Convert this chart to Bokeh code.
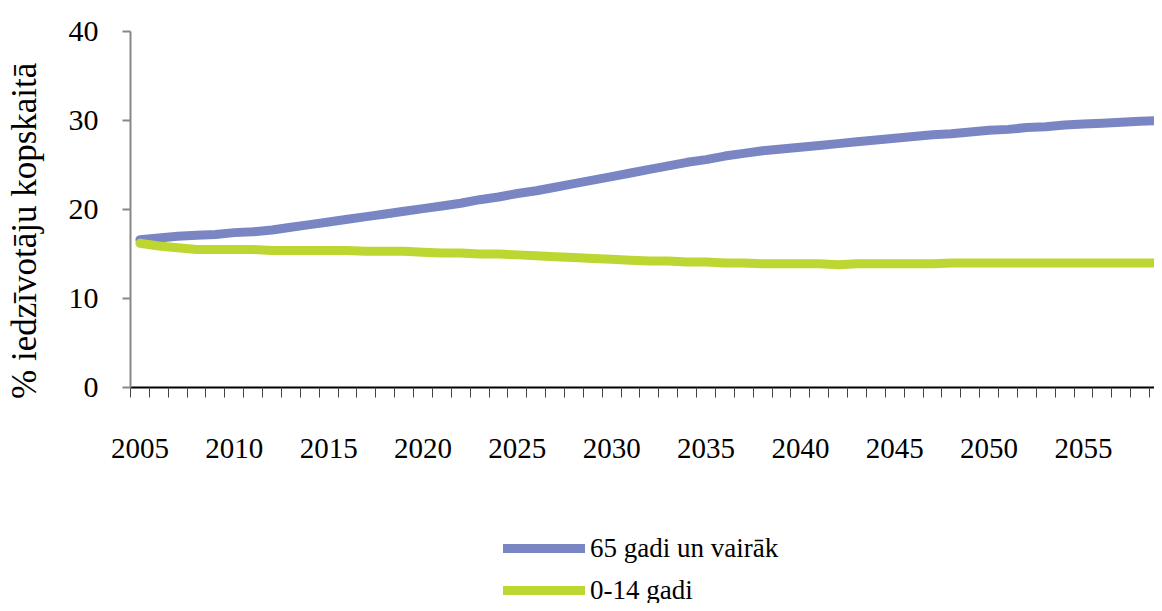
import math
from bokeh.plotting import figure
from bokeh.models import FixedTicker, Legend, LegendItem, Range1d, Label
from bokeh.embed import file_html
from bokeh.resources import INLINE

years = list(range(2005, 2061))
old_65 = [16.6, 16.8, 17.0, 17.1, 17.2, 17.4, 17.5, 17.7, 18.0, 18.3,
          18.6, 18.9, 19.2, 19.5, 19.8, 20.1, 20.4, 20.7, 21.1, 21.4,
          21.8, 22.1, 22.5, 22.9, 23.3, 23.7, 24.1, 24.5, 24.9, 25.3,
          25.6, 26.0, 26.3, 26.6, 26.8, 27.0, 27.2, 27.4, 27.6, 27.8,
          28.0, 28.2, 28.4, 28.5, 28.7, 28.9, 29.0, 29.2, 29.3, 29.5,
          29.6, 29.7, 29.8, 29.9, 30.0, 30.0]
young_014 = [16.2, 15.9, 15.7, 15.5, 15.5, 15.5, 15.5, 15.4, 15.4, 15.4,
             15.4, 15.4, 15.3, 15.3, 15.3, 15.2, 15.1, 15.1, 15.0, 15.0,
             14.9, 14.8, 14.7, 14.6, 14.5, 14.4, 14.3, 14.2, 14.2, 14.1,
             14.1, 14.0, 14.0, 13.9, 13.9, 13.9, 13.9, 13.8, 13.9, 13.9,
             13.9, 13.9, 13.9, 14.0, 14.0, 14.0, 14.0, 14.0, 14.0, 14.0,
             14.0, 14.0, 14.0, 14.0, 14.0, 14.0]
label_years = list(range(2005, 2061, 5))
y_ticks = [0, 10, 20, 30, 40]
series_names = ["65 gadi un vairāk", "0-14 gadi"]
y_title = "% iedzīvotāju kopskaitā"
colors = ["#7A85C3", "#BDD631"]

FONT = "Liberation Serif"

# The frame fills the whole figure; both axes are pinned inside it so that
# the legend and the rotated axis title can sit anywhere without clipping.
p = figure(width=1154, height=603, output_backend="svg", toolbar_location=None,
           x_range=Range1d(1997.611, 2058.765), y_range=Range1d(-24.27, 43.48),
           min_border=0)
p.outline_line_color = None
p.grid.visible = False

r1 = p.line(years, old_65, line_color=colors[0], line_width=9, line_cap="round")
r2 = p.line(years, young_014, line_color=colors[1], line_width=9, line_cap="round")

xa = p.xaxis[0]
xa.fixed_location = 0
xa.bounds = (2004.5, 2060.5)
xa.ticker = FixedTicker(ticks=label_years, minor_ticks=[y - 0.5 for y in years] + [2060.5])
xa.axis_line_color = "black"
xa.axis_line_width = 2
xa.major_tick_line_color = None
xa.major_tick_out = 10
xa.major_tick_in = 0
xa.minor_tick_line_color = "#444444"
xa.minor_tick_out = 10
xa.minor_tick_in = 0
xa.major_label_standoff = 42
xa.major_label_text_font = FONT
xa.major_label_text_font_size = "29px"
xa.major_label_text_color = "black"

ya = p.yaxis[0]
ya.fixed_location = 2004.5
ya.bounds = (0, 40)
ya.ticker = FixedTicker(ticks=y_ticks, minor_ticks=[])
ya.axis_line_color = "#888888"
ya.axis_line_width = 2
ya.major_tick_line_color = "#888888"
ya.major_tick_line_width = 2
ya.major_tick_out = 8
ya.major_tick_in = 0
ya.minor_tick_line_color = None
ya.major_label_standoff = 24
ya.major_label_text_font = FONT
ya.major_label_text_font_size = "30px"
ya.major_label_text_color = "black"

title = Label(x=1998.883, y=17.6, text=y_title, angle=math.pi / 2,
              text_align="center", text_baseline="middle",
              text_font=FONT, text_font_size="35px", text_color="black")
p.add_layout(title)

legend = Legend(items=[LegendItem(label=series_names[0], renderers=[r1]),
                       LegendItem(label=series_names[1], renderers=[r2])],
                location=(503, -5), orientation="vertical",
                label_text_font=FONT, label_text_font_size="27px",
                label_text_color="black", glyph_width=82, glyph_height=36,
                label_height=36, label_standoff=5, spacing=6, padding=0, margin=0,
                border_line_color=None, background_fill_alpha=0)
p.add_layout(legend, "center")

open("out.html", "w").write(file_html(p, INLINE))
